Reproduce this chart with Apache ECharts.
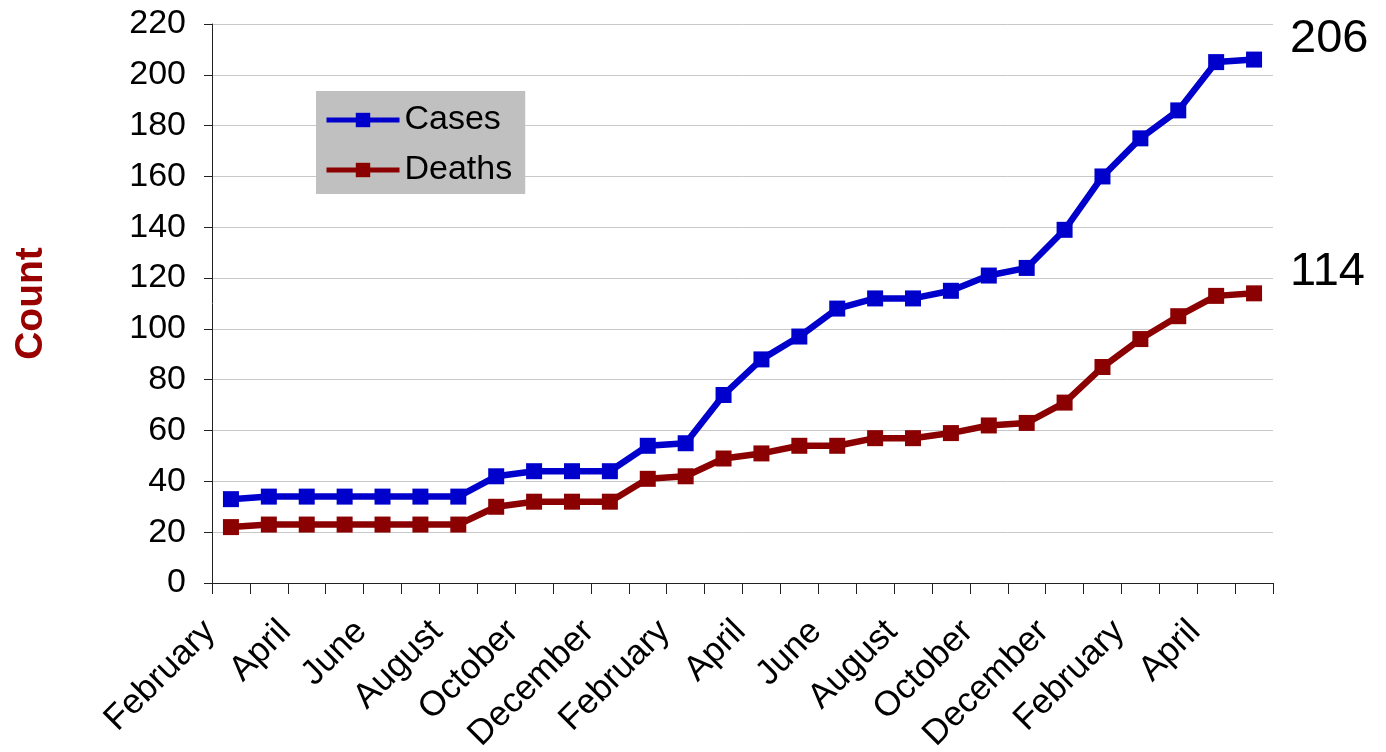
<!DOCTYPE html>
<html>
<head>
<meta charset="utf-8">
<script src="https://cdn.jsdelivr.net/npm/echarts@6/dist/echarts.min.js"></script>
<style>
  html, body { margin: 0; padding: 0; background: #ffffff; }
  #chart { width: 1386px; height: 752px; }
</style>
</head>
<body>
<div id="chart"></div>
<script>
// Monthly cumulative counts, February of year one through May of year three
const months = [
  'February', 'March', 'April', 'May', 'June', 'July', 'August', 'September',
  'October', 'November', 'December', 'January',
  'February', 'March', 'April', 'May', 'June', 'July', 'August', 'September',
  'October', 'November', 'December', 'January',
  'February', 'March', 'April', 'May'
];
const cases = [33, 34, 34, 34, 34, 34, 34, 42, 44, 44, 44, 54, 55, 74, 88, 97,
  108, 112, 112, 115, 121, 124, 139, 160, 175, 186, 205, 206];
const deaths = [22, 23, 23, 23, 23, 23, 23, 30, 32, 32, 32, 41, 42, 49, 51, 54,
  54, 57, 57, 59, 62, 63, 71, 85, 96, 105, 113, 114];

const FONT = '"Liberation Sans", Arial, sans-serif';
const BLUE = '#0000cc';
const RED = '#8b0000';

// Only the final point of each series carries a value label
function withEndLabel(values) {
  return values.map((v, i) => i === values.length - 1
    ? {
        value: v,
        label: {
          show: true,
          position: 'right',
          distance: 28,
          offset: [0, -21],
          formatter: '{c}',
          fontFamily: FONT,
          fontSize: 47,
          color: '#000'
        }
      }
    : v);
}

const chart = echarts.init(document.getElementById('chart'), null, { renderer: 'canvas' });

chart.setOption({
  animation: false,
  backgroundColor: '#ffffff',
  grid: {
    left: 212, right: 113, top: 24, bottom: 169,
    containLabel: false,
    outerBoundsMode: 'none'
  },
  legend: {
    orient: 'vertical',
    left: 316,
    top: 91,
    backgroundColor: '#c0c0c0',
    padding: [12, 13, 7, 8],
    itemWidth: 73,
    itemHeight: 18,
    itemGap: 16,
    lineStyle: { width: 5 },
    textStyle: { fontFamily: FONT, fontSize: 34, color: '#000' },
    data: ['Cases', 'Deaths']
  },
  xAxis: {
    type: 'category',
    data: months,
    boundaryGap: true,
    axisLine: { lineStyle: { color: '#222', width: 1 } },
    axisTick: { show: true, interval: 0, length: 11, inside: false, lineStyle: { color: '#222' } },
    axisLabel: {
      interval: 1,
      rotate: 45,
      margin: 22,
      padding: [0, 30, 0, 0],
      fontFamily: FONT,
      fontSize: 35,
      color: '#000'
    },
    splitLine: { show: false }
  },
  yAxis: {
    type: 'value',
    min: 0,
    max: 220,
    interval: 20,
    name: 'Count',
    nameLocation: 'middle',
    nameGap: 161,
    nameRotate: 90,
    nameTextStyle: { fontFamily: FONT, fontSize: 39, fontWeight: 'bold', color: '#990000' },
    axisLine: { show: true, lineStyle: { color: '#222', width: 1 } },
    axisTick: { show: true, length: 8, lineStyle: { color: '#222' } },
    axisLabel: { margin: 26, fontFamily: FONT, fontSize: 34, color: '#000' },
    splitLine: { show: true, lineStyle: { color: '#c8c8c8', width: 1 } }
  },
  series: [
    {
      name: 'Cases',
      type: 'line',
      data: withEndLabel(cases),
      symbol: 'rect',
      symbolSize: 16,
      color: BLUE,
      lineStyle: { color: BLUE, width: 6.5 },
      itemStyle: { color: BLUE },
      z: 3
    },
    {
      name: 'Deaths',
      type: 'line',
      data: withEndLabel(deaths),
      symbol: 'rect',
      symbolSize: 16,
      color: RED,
      lineStyle: { color: RED, width: 6.5 },
      itemStyle: { color: RED },
      z: 2
    }
  ]
});
</script>
</body>
</html>
